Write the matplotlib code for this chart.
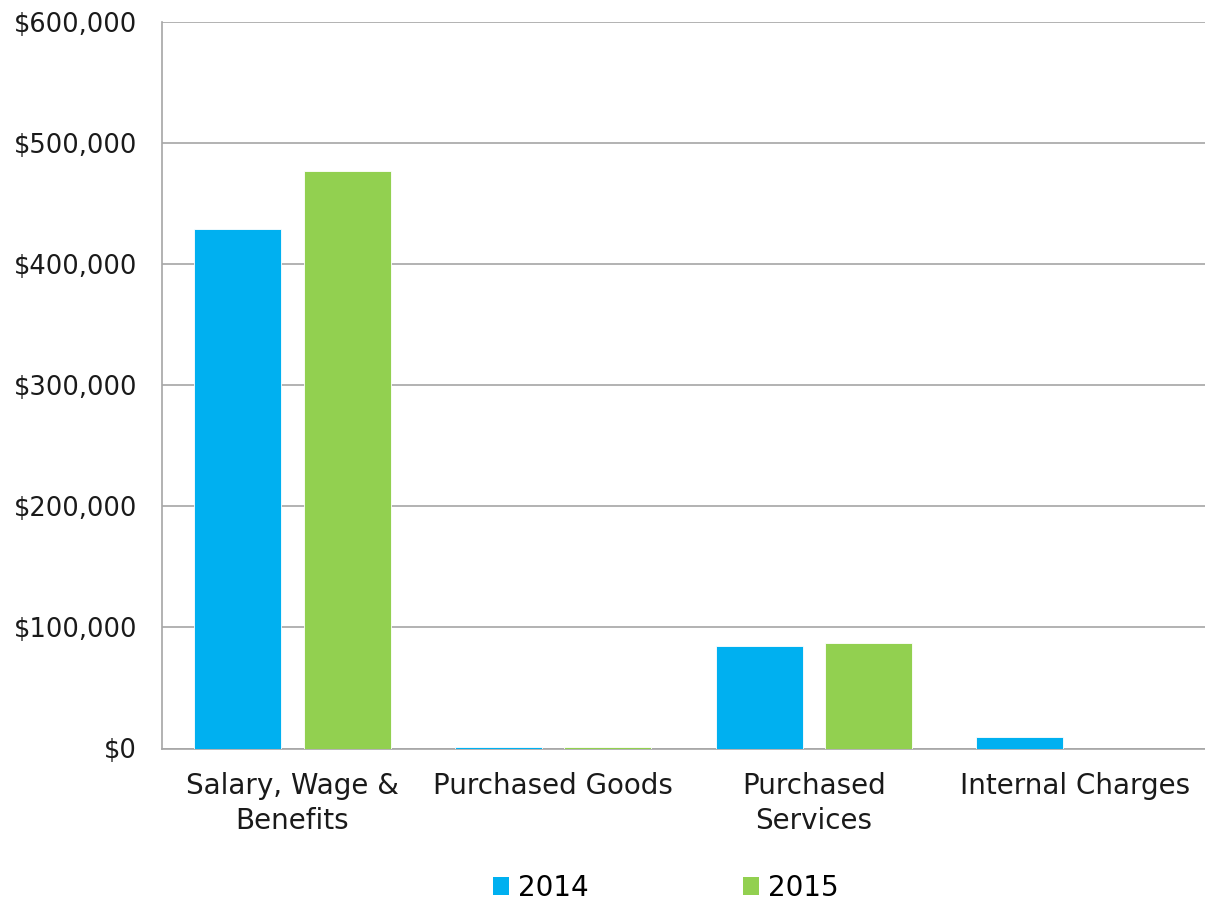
import matplotlib
matplotlib.use("Agg")
import matplotlib.pyplot as plt
from matplotlib.patches import Patch
from matplotlib.ticker import FuncFormatter, MultipleLocator
import numpy as np

categories = ["Salary, Wage &\nBenefits", "Purchased Goods", "Purchased\nServices", "Internal Charges"]
values_2014 = [428800, 1300, 85000, 9300]
values_2015 = [476700, 1200, 87000, 0]
series_names = ["2014", "2015"]
colors = ["#00B0F0", "#92D050"]

plt.rcParams['font.family'] = ['DejaVu Sans']
fig = plt.figure(figsize=(12.05, 9.07), dpi=100)
ax = fig.add_axes([162/1205, 1-748.5/907, 1-162/1205, (748.5-22)/907])

x = np.arange(len(categories))
w = 0.333
off = 0.21
ax.bar(x - off, values_2014, w, color=colors[0], edgecolor="white", linewidth=0.6, zorder=3)
ax.bar(x + off, values_2015, w, color=colors[1], edgecolor="white", linewidth=0.6, zorder=3)

ax.set_xlim(-0.5, len(categories) - 0.5)
ax.set_ylim(0, 600000)
ax.yaxis.set_major_locator(MultipleLocator(100000))
ax.yaxis.set_major_formatter(FuncFormatter(lambda v, p: "${:,.0f}".format(v)))
ax.grid(axis="y", color="#A6A6A6", linewidth=1.2, zorder=0)
ax.set_axisbelow(True)
for s in ["top", "right"]:
    ax.spines[s].set_visible(False)
for s in ["left", "bottom"]:
    ax.spines[s].set_color("#A6A6A6")
    ax.spines[s].set_linewidth(1.2)
ax.set_xticks(x)
ax.set_xticklabels(categories, linespacing=1.3)
ax.tick_params(axis="y", length=0, pad=18, labelsize=18.5, labelcolor="#1a1a1a")
ax.tick_params(axis="x", length=0, pad=17, labelsize=20, labelcolor="#1a1a1a")

handles = [Patch(facecolor=c, edgecolor="none") for c in colors]
fig.legend(handles, series_names, loc="center", bbox_to_anchor=(665.5/1205, 1-888/907),
           ncol=2, frameon=False, fontsize=20, handlelength=0.6, handleheight=0.6,
           handletextpad=0.3, columnspacing=5.55)

fig.savefig("out.png", dpi=100)
